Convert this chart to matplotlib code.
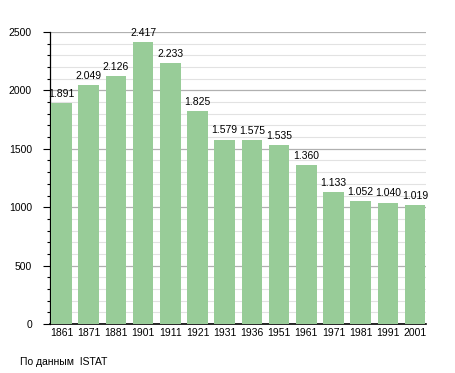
import matplotlib
matplotlib.use("Agg")
import matplotlib.pyplot as plt
from matplotlib.ticker import MultipleLocator

years = ["1861", "1871", "1881", "1901", "1911", "1921", "1931", "1936",
         "1951", "1961", "1971", "1981", "1991", "2001"]
population = [1891, 2049, 2126, 2417, 2233, 1825, 1579, 1575,
              1535, 1360, 1133, 1052, 1040, 1019]
value_labels = ["1.891", "2.049", "2.126", "2.417", "2.233", "1.825", "1.579",
                "1.575", "1.535", "1.360", "1.133", "1.052", "1.040", "1.019"]
source_text = "По данным  ISTAT"

plt.rcParams['font.family'] = ['Liberation Sans', 'DejaVu Sans']

fig = plt.figure(figsize=(4.55, 3.73), dpi=100)
ax = fig.add_axes([50/455, 1-324/373, 376/455, 292/373])

x = list(range(len(years)))
ax.bar(x, population, width=0.76, color='#98cc98', zorder=3)

for xi, v, lab in zip(x, population, value_labels):
    ax.text(xi, v + 35, lab, ha='center', va='bottom', fontsize=7.5, zorder=4)

ax.set_xlim(-0.42, 13.4)
ax.set_ylim(0, 2500)
ax.yaxis.set_major_locator(MultipleLocator(500))
ax.yaxis.set_minor_locator(MultipleLocator(100))
ax.grid(axis='y', which='major', color='#b0b0b0', linewidth=0.9, zorder=0)
ax.grid(axis='y', which='minor', color='#e2e2e2', linewidth=0.8, zorder=0)

ax.set_xticks(x)
ax.set_xticklabels(years, fontsize=7.5)
ax.tick_params(axis='x', length=0, pad=3)
ax.tick_params(axis='y', which='major', length=5, width=0.8, labelsize=7.5, pad=8)
ax.tick_params(axis='y', which='minor', length=2.5, width=0.8)

for s in ['top', 'right']:
    ax.spines[s].set_visible(False)
ax.spines['left'].set_linewidth(0.9)
ax.spines['bottom'].set_linewidth(1.2)

fig.text(20/455, 1-362/373, source_text, fontsize=7.5, ha='left', va='center')

fig.savefig("out.png", dpi=100)
